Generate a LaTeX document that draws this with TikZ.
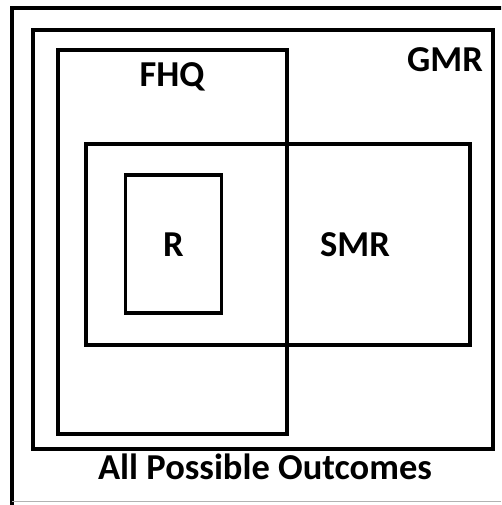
\documentclass[tikz,border=0pt]{standalone}
\usepackage{fontspec}
\setmainfont{Carlito}
\begin{document}
\begin{tikzpicture}[x=1pt,y=-1pt,
  setbox/.style={draw=black,line width=3.8pt,inner sep=0pt,outer sep=0pt},
  lbl/.style={font=\fontsize{36.5}{36.5}\selectfont\bfseries,inner sep=0pt,text=black}]
\useasboundingbox (0,0) rectangle (501,505);
\clip (0,0) rectangle (501,505);
\fill[white] (0,0) rectangle (501,505);
% outer frame
\coordinate (ob) at (12,520);
\coordinate (otl) at (12,8);
\coordinate (otr) at (520,8);
\draw[line width=4pt,line join=miter] (ob) -- (otl) -- (otr);
\coordinate (gl) at (12,501.5);
\coordinate (gr) at (501,501.5);
\draw[gray!60,line width=1.5pt] (gl) -- (gr);
% sets
\node[setbox,minimum width=460pt,minimum height=419pt] (gmr) at (263,239.5) {};
\node[setbox,minimum width=229pt,minimum height=384pt] (fhq) at (172.5,242) {};
\node[setbox,minimum width=384pt,minimum height=201pt] (smr) at (278,244.5) {};
\node[setbox,minimum width=96pt,minimum height=137.5pt] (r) at (173.5,244) {};
% labels
\node[lbl] (tgmr) at (445,60) {GMR};
\node[lbl] (tfhq) at (172,77) {FHQ};
\node[lbl] (tr) at (173.5,245) {R};
\node[lbl] (tsmr) at (355,245) {SMR};
\node[lbl] (tall) at (265,467) {All Possible Outcomes};
\end{tikzpicture}
\end{document}
